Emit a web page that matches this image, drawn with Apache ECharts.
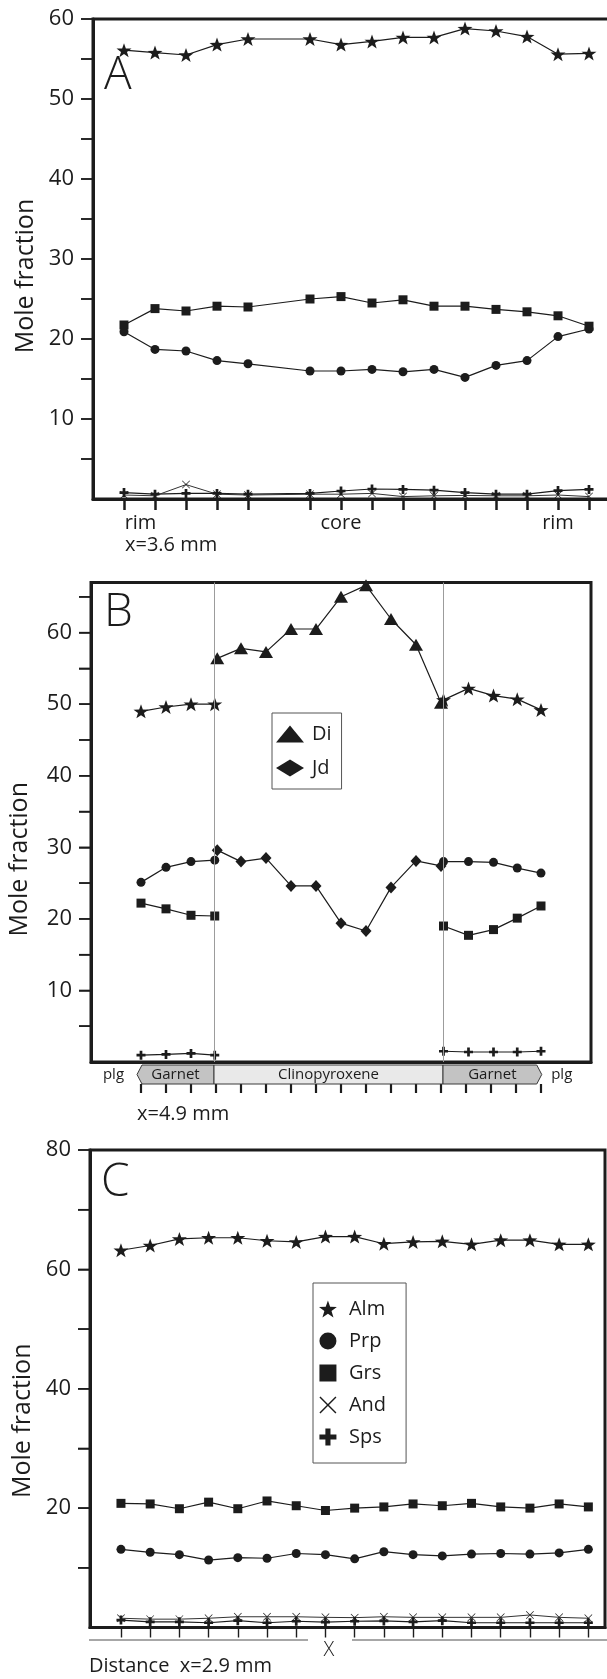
<!DOCTYPE html>
<html>
<head>
<meta charset="utf-8">
<script src="https://cdn.jsdelivr.net/npm/echarts@6/dist/echarts.min.js"></script>
<style>
html,body{margin:0;padding:0;background:#fff;}
#chart{width:607px;height:1679px;}
</style>
</head>
<body>
<div id="chart"></div>
<script>
// ---------------- Panel A (garnet profile, x=3.6 mm) ----------------
const aX   = [0, 1, 2, 3, 4, 6, 7, 8, 9, 10, 11, 12, 13, 14, 15];
const aAlm = [56.1, 55.8, 55.5, 56.8, 57.5, 57.5, 56.8, 57.2, 57.7, 57.7, 58.8, 58.5, 57.8, 55.6, 55.7];
const aGrs = [21.75, 23.8, 23.5, 24.1, 24.0, 25.0, 25.3, 24.5, 24.9, 24.1, 24.1, 23.7, 23.4, 22.9, 21.6];
const aPrp = [20.9, 18.7, 18.5, 17.3, 16.9, 16.0, 16.0, 16.2, 15.9, 16.2, 15.2, 16.7, 17.3, 20.3, 21.25];
const aSps = [0.8, 0.6, 0.7, 0.7, 0.6, 0.7, 1.0, 1.25, 1.2, 1.1, 0.8, 0.6, 0.6, 1.05, 1.2];
const aAnd = [0.5, 0.4, 1.8, 0.6, 0.5, 0.6, 0.6, 0.7, 0.3, 0.4, 0.45, 0.4, 0.4, 0.5, 0.3];
const aTickPos   = [0, 1, 2, 3, 4, 6, 7, 8, 9, 10, 11, 12, 13, 14, 15];
const aLabelPos  = [0, 7, 14];
const aLabelText = ['rim', 'core', 'rim'];
const aYTicks  = [5, 10, 15, 20, 25, 30, 35, 40, 45, 50, 55, 60];
const aYLabels = [10, 20, 30, 40, 50, 60];

// ---------------- Panel B (garnet - clinopyroxene - garnet, x=4.9 mm) ----------------
const bLeftX  = [0, 1, 2, 2.95];
const bAlmL   = [49.0, 49.6, 50.0, 50.0];
const bPrpL   = [25.1, 27.2, 28.0, 28.2];
const bGrsL   = [22.2, 21.4, 20.5, 20.4];
const bSpsL   = [0.96, 1.06, 1.2, 0.96];
const bRightX = [12.1, 13.1, 14.1, 15.05, 16];
const bAlmR   = [50.6, 52.2, 51.2, 50.7, 49.2];
const bPrpR   = [28.0, 28.0, 27.9, 27.1, 26.4];
const bGrsR   = [19.0, 17.7, 18.5, 20.1, 21.8];
const bSpsR   = [1.5, 1.4, 1.4, 1.4, 1.5];
const bCpxX   = [3.05, 4, 5, 6, 7, 8, 9, 10, 11, 12];
const bDi     = [56.4, 57.8, 57.3, 60.5, 60.5, 65.0, 66.6, 61.9, 58.3, 50.2];
const bJd     = [29.6, 28.0, 28.5, 24.6, 24.6, 19.4, 18.3, 24.4, 28.1, 27.4];
const bBounds   = [2.92, 12.08];
const bandStart = [-0.16, 2.92, 12.08];
const bandEnd   = [2.92, 12.08, 16.03];
const bandNames = ['Garnet', 'Clinopyroxene', 'Garnet'];
const plgPos    = [-1.1, 16.83];
const plgNames  = ['plg', 'plg'];
const bTickPos  = [0, 1, 2, 3, 4, 5, 6, 7, 8, 9, 10, 11, 12, 13, 14, 15, 16];
const bYTicks   = [5, 10, 15, 20, 25, 30, 35, 40, 45, 50, 55, 60, 65];
const bYLabels  = [10, 20, 30, 40, 50, 60];

// ---------------- Panel C (garnet, x=2.9 mm) ----------------
const cX   = [0, 1, 2, 3, 4, 5, 6, 7, 8, 9, 10, 11, 12, 13, 14, 15, 16];
const cAlm = [63.2, 64.0, 65.1, 65.3, 65.3, 64.8, 64.6, 65.5, 65.5, 64.3, 64.6, 64.7, 64.2, 64.9, 64.9, 64.2, 64.2];
const cGrs = [20.8, 20.7, 19.9, 21.0, 19.9, 21.2, 20.4, 19.6, 20.0, 20.2, 20.7, 20.4, 20.8, 20.2, 20.0, 20.7, 20.2];
const cPrp = [13.1, 12.6, 12.2, 11.3, 11.7, 11.6, 12.4, 12.2, 11.5, 12.7, 12.2, 12.0, 12.3, 12.4, 12.3, 12.5, 13.1];
const cAnd = [1.55, 1.4, 1.4, 1.55, 1.8, 1.8, 1.8, 1.7, 1.65, 1.8, 1.7, 1.7, 1.7, 1.7, 2.1, 1.7, 1.55];
const cSps = [1.25, 0.95, 0.95, 0.8, 1.15, 0.8, 1.05, 0.9, 1.05, 1.1, 0.95, 1.15, 0.8, 0.8, 0.8, 0.8, 0.8];
const cTickPos  = cX;
const cYTicks   = [10, 20, 30, 40, 50, 60, 70, 80];
const cYLabels  = [20, 40, 60, 80];

// ---------------- styling ----------------
const FONT = "'Open Sans', 'Noto Sans', 'DejaVu Sans', sans-serif";
const INK = '#1c1c1c';
const STAR   = 'path://M0,-1L0.235,-0.324L0.951,-0.309L0.38,0.124L0.588,0.809L0,0.4L-0.588,0.809L-0.38,0.124L-0.951,-0.309L-0.235,-0.324Z';
const PLUS   = 'path://M-0.3,-1L0.3,-1L0.3,-0.3L1,-0.3L1,0.3L0.3,0.3L0.3,1L-0.3,1L-0.3,0.3L-1,0.3L-1,-0.3L-0.3,-0.3Z';
const CROSS  = 'path://M-1,-0.88L-0.88,-1L0,-0.12L0.88,-1L1,-0.88L0.12,0L1,0.88L0.88,1L0,0.12L-0.88,1L-1,0.88L-0.12,0Z';
const SQUARE = 'path://M-1,-1L1,-1L1,1L-1,1Z';
const SYM = {
  Alm: [STAR, [15, 14]], Prp: ['circle', 9], Grs: [SQUARE, 9], And: [CROSS, 8],
  Sps: [PLUS, 9], Di: ['triangle', [14, 12]], Jd: ['diamond', [11, 12]]
};
const BAND_FILL = ['#c3c3c3', '#e9e9e9', '#c3c3c3'];
const Y_TICK_LEN = 12;

function line(name, idx, xs, ys, extra) {
  const s = SYM[name];
  return Object.assign({
    type: 'line', name: name, xAxisIndex: idx, yAxisIndex: idx,
    data: xs.map((x, i) => [x, ys[i]]),
    symbol: s[0], symbolSize: s[1], showSymbol: true,
    lineStyle: { color: INK, width: 1.2 }, itemStyle: { color: INK },
    emphasis: { disabled: true }, animation: false, z: 3
  }, extra || {});
}

function yAxis(idx, max, ticks, labels, gap, shift) {
  return {
    type: 'value', gridIndex: idx, min: 0, max: max, position: 'left',
    name: 'Mole fraction', nameLocation: 'middle', nameRotate: 90, nameGap: gap,
    nameTextStyle: { fontSize: 25, fontFamily: FONT, color: INK, padding: [0, shift, 0, 0] },
    axisLine: { show: true, onZero: false, lineStyle: { color: INK, width: 3 } },
    splitLine: { show: false },
    axisTick: { show: true, inside: false, length: Y_TICK_LEN, customValues: ticks, lineStyle: { color: INK, width: 1.5 } },
    axisLabel: { show: true, margin: 19, customValues: labels, fontSize: 22, fontFamily: FONT, color: INK }
  };
}

const gridBase = { show: true, borderColor: INK, borderWidth: 3, backgroundColor: 'transparent', outerBoundsMode: 'none' };

const option = {
  backgroundColor: '#fff',
  animation: false,
  grid: [
    Object.assign({ left: 93, top: 19, width: 558, height: 480 }, gridBase),
    Object.assign({ left: 91, top: 582.5, width: 500, height: 479.5 }, gridBase),
    { left: 91, top: 1065, width: 500, height: 19, show: false, outerBoundsMode: 'none' },
    Object.assign({ left: 90, top: 1150, width: 515, height: 477.5 }, gridBase)
  ],
  xAxis: [
    {
      type: 'value', gridIndex: 0, min: -1, max: 17,
      axisLine: { show: true, onZero: false, lineStyle: { color: INK, width: 3 } }, splitLine: { show: false },
      axisTick: { show: true, inside: false, length: 11, customValues: aTickPos, lineStyle: { color: INK, width: 2.5 } },
      axisLabel: {
        show: true, margin: 14, customValues: aLabelPos, fontSize: 20, fontFamily: FONT, color: INK,
        formatter: function (v) {
          const i = aLabelPos.indexOf(v);
          if (i < 0) return '';
          return i === 0 ? '{l|' + aLabelText[i] + '}' : aLabelText[i];
        },
        rich: { l: { padding: [0, 0, 0, 33], fontSize: 20, fontFamily: FONT, color: INK } }
      }
    },
    {
      type: 'value', gridIndex: 1, min: -2, max: 18,
      axisLine: { show: true, onZero: false, lineStyle: { color: INK, width: 3 } }, splitLine: { show: false },
      axisTick: { show: false }, axisLabel: { show: false }
    },
    {
      type: 'value', gridIndex: 2, min: -2, max: 18,
      axisLine: { show: false, onZero: false }, splitLine: { show: false },
      axisTick: { show: true, inside: false, length: 9, customValues: bTickPos, lineStyle: { color: INK, width: 2.2 } },
      axisLabel: { show: false }
    },
    {
      type: 'value', gridIndex: 3, min: -1.06, max: 16.57,
      axisLine: { show: true, onZero: false, lineStyle: { color: INK, width: 3 } }, splitLine: { show: false },
      axisTick: { show: true, inside: false, length: 10, customValues: cTickPos, lineStyle: { color: INK, width: 1.4 } },
      axisLabel: { show: false }
    }
  ],
  yAxis: [
    yAxis(0, 60, aYTicks, aYLabels, 53, 34),
    yAxis(1, 67, bYTicks, bYLabels, 59, 74),
    { type: 'value', gridIndex: 2, min: 0, max: 1, show: false },
    yAxis(3, 80, cYTicks, cYLabels, 55, 64)
  ],
  legend: [
    {
      data: [{ name: 'Di', icon: 'triangle' }, { name: 'Jd', icon: 'diamond' }],
      orient: 'vertical', left: 272, top: 713,
      padding: [11, 10, 11, 4], itemWidth: 28, itemHeight: 17, itemGap: 14,
      borderColor: '#555', borderWidth: 1, selectedMode: false,
      textStyle: { fontSize: 20, fontFamily: FONT, color: INK, padding: [0, 0, 0, 3] }
    },
    {
      data: [
        { name: 'Alm', icon: STAR }, { name: 'Prp', icon: 'circle' }, { name: 'Grs', icon: SQUARE },
        { name: 'And', icon: CROSS }, { name: 'Sps', icon: PLUS }
      ],
      orient: 'vertical', left: 313, top: 1283,
      padding: [16, 20, 16, 6], itemWidth: 28, itemHeight: 17, itemGap: 12,
      borderColor: '#555', borderWidth: 1, selectedMode: false,
      textStyle: { fontSize: 20, fontFamily: FONT, color: INK, padding: [0, 0, 0, 2] }
    }
  ],
  series: [
    // Panel A
    line('Sps', 0, aX, aSps),
    line('And', 0, aX, aAnd, { lineStyle: { color: '#333', width: 1 } }),
    line('Prp', 0, aX, aPrp),
    line('Grs', 0, aX, aGrs),
    line('Alm', 0, aX, aAlm),
    // Panel B
    line('Alm', 1, bLeftX, bAlmL),
    line('Alm', 1, bRightX, bAlmR),
    line('Prp', 1, bLeftX, bPrpL),
    line('Prp', 1, bRightX, bPrpR),
    line('Grs', 1, bLeftX, bGrsL),
    line('Grs', 1, bRightX, bGrsR),
    line('Sps', 1, bLeftX, bSpsL),
    line('Sps', 1, bRightX, bSpsR),
    line('Jd', 1, bCpxX, bJd),
    line('Di', 1, bCpxX, bDi, {
      markLine: {
        silent: true, symbol: 'none', animation: false, label: { show: false },
        lineStyle: { color: '#9c9c9c', width: 1, type: 'solid' },
        data: bBounds.map(v => ({ xAxis: v }))
      }
    }),
    // mineral band under panel B
    {
      type: 'custom', name: 'band', xAxisIndex: 2, yAxisIndex: 2, silent: true, animation: false,
      data: bandStart.map((s, i) => [s, bandEnd[i]]),
      renderItem: function (params, api) {
        const i = params.dataIndex;
        const s = api.coord([api.value(0), 1]);
        const e = api.coord([api.value(1), 0]);
        const x0 = s[0], x1 = e[0], y0 = s[1], y1 = e[1], ym = (y0 + y1) / 2, k = 5;
        let pts;
        if (i === 0) pts = [[x0 + k, y0], [x1, y0], [x1, y1], [x0 + k, y1], [x0, ym]];
        else if (i === bandNames.length - 1) pts = [[x0, y0], [x1 - k, y0], [x1, ym], [x1 - k, y1], [x0, y1]];
        else pts = [[x0, y0], [x1, y0], [x1, y1], [x0, y1]];
        return {
          type: 'group', children: [
            { type: 'polygon', shape: { points: pts }, style: { fill: BAND_FILL[i], stroke: '#3a3a3a', lineWidth: 1 } },
            { type: 'text', style: { text: bandNames[i], x: (x0 + x1) / 2, y: ym, align: 'center', verticalAlign: 'middle', fontSize: 15, fontFamily: FONT, fill: INK } }
          ]
        };
      }
    },
    {
      type: 'custom', name: 'plg', xAxisIndex: 2, yAxisIndex: 2, silent: true, animation: false,
      data: plgPos.map(p => [p, 0.5]),
      renderItem: function (params, api) {
        const p = api.coord([api.value(0), api.value(1)]);
        return { type: 'text', style: { text: plgNames[params.dataIndex], x: p[0], y: p[1], align: 'center', verticalAlign: 'middle', fontSize: 15, fontFamily: FONT, fill: INK } };
      }
    },
    // Panel C
    line('Sps', 3, cX, cSps),
    line('And', 3, cX, cAnd, { lineStyle: { color: '#333', width: 1 } }),
    line('Prp', 3, cX, cPrp),
    line('Grs', 3, cX, cGrs),
    line('Alm', 3, cX, cAlm)
  ],
  graphic: [
    { type: 'text', x: 104, y: 76, style: { text: 'A', fontSize: 46, fontWeight: 300, fontFamily: FONT, fill: INK, verticalAlign: 'middle' } },
    { type: 'text', x: 104, y: 613, style: { text: 'B', fontSize: 46, fontWeight: 300, fontFamily: FONT, fill: INK, verticalAlign: 'middle' } },
    { type: 'text', x: 101, y: 1183, style: { text: 'C', fontSize: 46, fontWeight: 300, fontFamily: FONT, fill: INK, verticalAlign: 'middle' } },
    { type: 'text', x: 125, y: 545, style: { text: 'x=3.6 mm', fontSize: 20, fontFamily: FONT, fill: INK, verticalAlign: 'middle' } },
    { type: 'text', x: 137, y: 1114, style: { text: 'x=4.9 mm', fontSize: 20, fontFamily: FONT, fill: INK, verticalAlign: 'middle' } },
    { type: 'line', shape: { x1: 89, y1: 1640, x2: 308, y2: 1640 }, style: { stroke: '#8a8a8a', lineWidth: 1.5 } },
    { type: 'line', shape: { x1: 352, y1: 1640, x2: 607, y2: 1640 }, style: { stroke: '#8a8a8a', lineWidth: 1.5 } },
    { type: 'text', x: 329, y: 1650, style: { text: 'X', fontSize: 20, fontWeight: 300, fontFamily: FONT, fill: INK, align: 'center', verticalAlign: 'middle' } },
    { type: 'text', x: 89, y: 1666, style: { text: 'Distance  x=2.9 mm', fontSize: 20, fontFamily: FONT, fill: INK, verticalAlign: 'middle' } }
  ]
};

const chart = echarts.init(document.getElementById('chart'), null, { renderer: 'canvas' });
chart.setOption(option);

// Y-axis tick marks, placed through each panel's own scale (convertToPixel)
const tickSets = [[0, aYTicks], [1, bYTicks], [3, cYTicks]];
const tickMarks = [];
tickSets.forEach(function (t) {
  const g = t[0], xmin = option.xAxis[g].min;
  t[1].forEach(function (v) {
    const p = chart.convertToPixel({ gridIndex: g }, [xmin, v]);
    if (!p) return;
    tickMarks.push({
      type: 'line', z: 100, silent: true,
      shape: { x1: p[0] - Y_TICK_LEN, y1: p[1], x2: p[0], y2: p[1] },
      style: { stroke: INK, lineWidth: 1.5 }
    });
  });
});
chart.setOption({ graphic: option.graphic.concat(tickMarks) });
</script>
</body>
</html>
